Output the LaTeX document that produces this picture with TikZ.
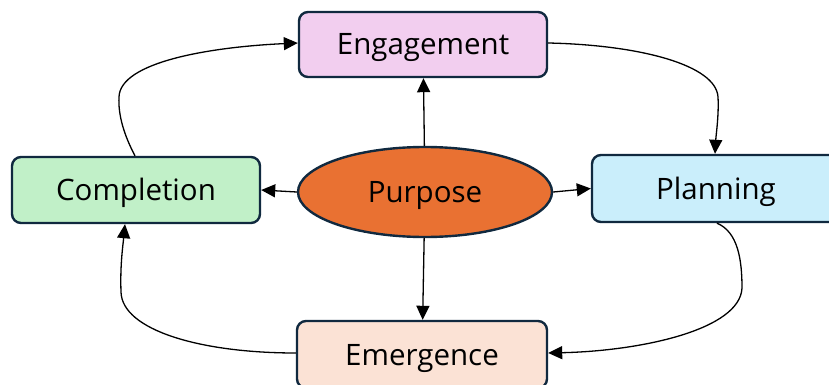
\documentclass[tikz,border=0pt]{standalone}
\usepackage{fontspec}
\setmainfont{Open Sans}
\usetikzlibrary{shapes.geometric,arrows.meta}
\definecolor{edgeblue}{HTML}{10293F}
\definecolor{pinkfill}{HTML}{F2CEEF}
\definecolor{greenfill}{HTML}{C1F0C8}
\definecolor{bluefill}{HTML}{CAEEFB}
\definecolor{peachfill}{HTML}{FBE2D5}
\definecolor{orangefill}{HTML}{E97132}
\tikzset{
  labeltext/.style={font=\fontsize{29.5}{32}\selectfont, text=black,
    text height=21pt, text depth=0pt},
  stagebox/.style={draw=edgeblue, line width=2.4pt, rounded corners=9pt,
    minimum width=248pt, minimum height=65pt, inner sep=0pt, labeltext},
  hub/.style={ellipse, draw=edgeblue, line width=2.4pt, fill=orangefill,
    minimum width=254pt, minimum height=90pt, inner sep=0pt, labeltext},
  conn/.style={line width=1.3pt, -{Triangle[length=14pt,width=13pt]}}
}
\begin{document}
\begin{tikzpicture}[x=1pt,y=-1pt]
\useasboundingbox (0,0) rectangle (829,385);
\node[stagebox, fill=pinkfill] (eng) at (423,44.5) {Engagement};
\node[stagebox, fill=greenfill, minimum height=66pt] (cmp) at (136,190) {Completion};
\node[stagebox, fill=bluefill, minimum height=67pt] (pln) at (716,188.5) {Planning};
\node[stagebox, fill=peachfill, minimum height=67pt, minimum width=250pt] (emg) at (422,354.5) {Emergence};
\node[hub] (pur) at (425,192) {Purpose};

\draw[conn] (pur) -- (eng);
\draw[conn] (pur) -- (emg);
\draw[conn] (pur.west) -- (cmp.east);
\draw[conn] (pur.east) -- (pln.west);

\draw[conn] ([xshift=-1pt]cmp.north) .. controls (124,135) and (118,115) .. (119,97)
  .. controls (120,62) and (210,47) .. ([yshift=1.5pt]eng.west);
\draw[conn] ([yshift=1.5pt]eng.east) .. controls (640,45) and (716,65) .. (718,97)
  .. controls (719,115) and (716,135) .. ([xshift=-1pt]pln.north);
\draw[conn] ([xshift=1pt]pln.south) .. controls (738,232) and (742,260) .. (742,288)
  .. controls (740,330) and (640,351) .. ([yshift=1.5pt]emg.east);
\draw[conn] ([yshift=1.5pt]emg.west) .. controls (200,353) and (122,330) .. (121,292)
  .. controls (120,265) and (123,245) .. ([xshift=-11pt]cmp.south);
\end{tikzpicture}
\end{document}
